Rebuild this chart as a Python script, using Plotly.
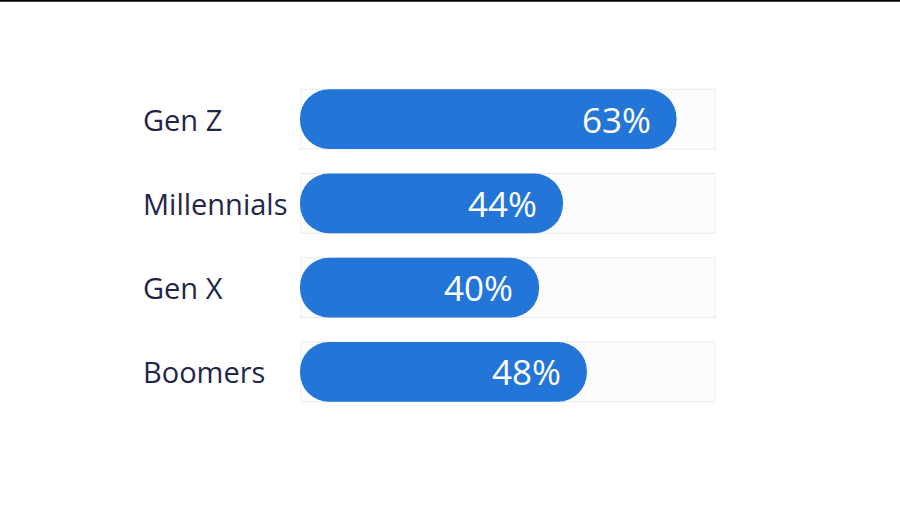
import plotly.graph_objects as go

# share by generation
groups = ["Gen Z", "Millennials", "Gen X", "Boomers"]
shares = [63, 44, 40, 48]
share_labels = ["63%", "44%", "40%", "48%"]
track_max = 69.6  # where the grey track stops

BLUE = "#2376d8"
NAVY = "#23264a"
BAR_W = 0.71

fig = go.Figure()

# grey track behind every bar
fig.add_trace(go.Bar(
    y=groups, x=[track_max] * len(groups), orientation="h", width=BAR_W,
    marker=dict(color="#fcfcfc", line=dict(color="#ebebeb", width=1)),
    hoverinfo="skip",
))
# the pill itself
fig.add_trace(go.Bar(
    y=groups, x=shares, base=[0] * len(groups), orientation="h", width=BAR_W,
    marker=dict(color=BLUE, cornerradius="50%", line=dict(width=0)),
))

annots = []
for g, v, lab in zip(groups, shares, share_labels):
    annots.append(dict(
        x=v, y=g, xref="x", yref="y", text=lab, showarrow=False,
        xanchor="right", xshift=-24,
        font=dict(family="Open Sans", size=35, color="white"),
    ))
    annots.append(dict(
        x=-0.382, y=g, xref="paper", yref="y", text=g, showarrow=False,
        xanchor="left",
        font=dict(family="Open Sans", size=29, color=NAVY),
    ))

fig.update_layout(
    width=900, height=506,
    margin=dict(l=300, r=184, t=77, b=92),
    barmode="overlay",
    showlegend=False,
    plot_bgcolor="white", paper_bgcolor="white",
    annotations=annots,
    shapes=[dict(type="line", xref="paper", yref="paper",
                 x0=-0.75, x1=1.5, y0=1.226, y1=1.226,
                 line=dict(color="black", width=2))],
)
fig.update_xaxes(range=[0, track_max], visible=False, fixedrange=True)
fig.update_yaxes(categoryorder="array", categoryarray=groups,
                 range=[3.5, -0.5], visible=False, fixedrange=True)

# drop the default page margin so the figure sits at the window corner
fig.write_html("out.html", config={"displayModeBar": False},
               post_script="document.body.style.margin='0';")
